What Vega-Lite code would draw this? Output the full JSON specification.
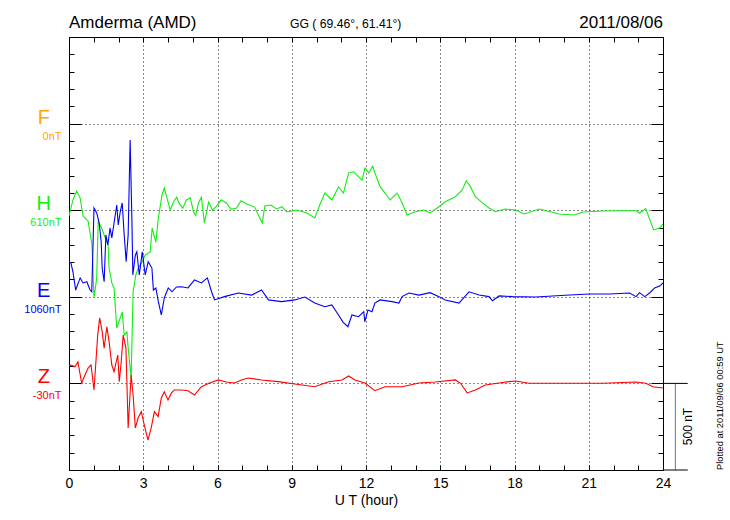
{
  "$schema": "https://vega.github.io/schema/vega-lite/v6.json",
  "width": 594,
  "height": 433,
  "autosize": {"type": "none"},
  "padding": {"left": 69, "top": 37, "right": 67, "bottom": 50},
  "background": "white",
  "config": {
    "font": "Liberation Sans",
    "view": {"stroke": "black", "strokeWidth": 1},
    "axis": {"labelFont": "Liberation Sans", "titleFont": "Liberation Sans"},
    "text": {"font": "Liberation Sans"}
  },
  "datasets": {
    "lines": [
      {"c":"H","t":0,"v":1467},{"c":"H","t":0.16,"v":1559},{"c":"H","t":0.31,"v":1611},{"c":"H","t":0.45,"v":1570},{"c":"H","t":0.57,"v":1467},{"c":"H","t":0.77,"v":1438},{"c":"H","t":0.93,"v":1299},{"c":"H","t":1.01,"v":993},{"c":"H","t":1.12,"v":1109},{"c":"H","t":1.18,"v":1432},{"c":"H","t":1.3,"v":1403},{"c":"H","t":1.42,"v":1357},{"c":"H","t":1.58,"v":1299},{"c":"H","t":1.62,"v":1166},{"c":"H","t":1.73,"v":1080},{"c":"H","t":1.82,"v":1051},{"c":"H","t":1.93,"v":820},{"c":"H","t":2.07,"v":878},{"c":"H","t":2.15,"v":912},{"c":"H","t":2.23,"v":779},{"c":"H","t":2.34,"v":797},{"c":"H","t":2.39,"v":704},{"c":"H","t":2.51,"v":531},{"c":"H","t":2.59,"v":1028},{"c":"H","t":2.7,"v":1126},{"c":"H","t":2.8,"v":1166},{"c":"H","t":2.95,"v":1201},{"c":"H","t":3.08,"v":1241},{"c":"H","t":3.28,"v":1259},{"c":"H","t":3.36,"v":1397},{"c":"H","t":3.51,"v":1316},{"c":"H","t":3.61,"v":1455},{"c":"H","t":3.76,"v":1588},{"c":"H","t":3.85,"v":1628},{"c":"H","t":3.96,"v":1570},{"c":"H","t":4.09,"v":1501},{"c":"H","t":4.22,"v":1547},{"c":"H","t":4.35,"v":1575},{"c":"H","t":4.46,"v":1536},{"c":"H","t":4.6,"v":1512},{"c":"H","t":4.74,"v":1559},{"c":"H","t":4.9,"v":1572},{"c":"H","t":5.03,"v":1490},{"c":"H","t":5.12,"v":1470},{"c":"H","t":5.23,"v":1542},{"c":"H","t":5.35,"v":1575},{"c":"H","t":5.47,"v":1426},{"c":"H","t":5.64,"v":1547},{"c":"H","t":5.8,"v":1500},{"c":"H","t":5.96,"v":1524},{"c":"H","t":6.15,"v":1560},{"c":"H","t":6.36,"v":1542},{"c":"H","t":6.55,"v":1505},{"c":"H","t":6.77,"v":1513},{"c":"H","t":6.95,"v":1555},{"c":"H","t":7.18,"v":1536},{"c":"H","t":7.5,"v":1518},{"c":"H","t":7.81,"v":1426},{"c":"H","t":7.91,"v":1524},{"c":"H","t":8.15,"v":1530},{"c":"H","t":8.39,"v":1507},{"c":"H","t":8.6,"v":1520},{"c":"H","t":8.8,"v":1490},{"c":"H","t":9.2,"v":1501},{"c":"H","t":9.61,"v":1484},{"c":"H","t":9.93,"v":1455},{"c":"H","t":10.13,"v":1530},{"c":"H","t":10.34,"v":1599},{"c":"H","t":10.62,"v":1559},{"c":"H","t":10.89,"v":1634},{"c":"H","t":11.09,"v":1599},{"c":"H","t":11.3,"v":1715},{"c":"H","t":11.5,"v":1722},{"c":"H","t":11.68,"v":1697},{"c":"H","t":11.84,"v":1674},{"c":"H","t":11.96,"v":1744},{"c":"H","t":12.11,"v":1715},{"c":"H","t":12.27,"v":1755},{"c":"H","t":12.36,"v":1715},{"c":"H","t":12.57,"v":1636},{"c":"H","t":12.77,"v":1599},{"c":"H","t":12.97,"v":1559},{"c":"H","t":13.26,"v":1599},{"c":"H","t":13.46,"v":1542},{"c":"H","t":13.66,"v":1472},{"c":"H","t":13.99,"v":1491},{"c":"H","t":14.34,"v":1501},{"c":"H","t":14.59,"v":1484},{"c":"H","t":14.95,"v":1520},{"c":"H","t":15.2,"v":1549},{"c":"H","t":15.61,"v":1578},{"c":"H","t":15.89,"v":1617},{"c":"H","t":16.05,"v":1670},{"c":"H","t":16.22,"v":1636},{"c":"H","t":16.42,"v":1578},{"c":"H","t":16.7,"v":1542},{"c":"H","t":16.97,"v":1513},{"c":"H","t":17.23,"v":1491},{"c":"H","t":17.63,"v":1507},{"c":"H","t":18.04,"v":1501},{"c":"H","t":18.39,"v":1478},{"c":"H","t":19.0,"v":1507},{"c":"H","t":19.81,"v":1478},{"c":"H","t":20.42,"v":1472},{"c":"H","t":20.76,"v":1490},{"c":"H","t":21.57,"v":1495},{"c":"H","t":22.24,"v":1497},{"c":"H","t":22.91,"v":1497},{"c":"H","t":23.06,"v":1484},{"c":"H","t":23.3,"v":1509},{"c":"H","t":23.62,"v":1386},{"c":"H","t":23.87,"v":1397},{"c":"H","t":24,"v":1420},
      {"c":"E","t":0,"v":1201},{"c":"E","t":0.08,"v":1195},{"c":"E","t":0.16,"v":1143},{"c":"E","t":0.27,"v":1039},{"c":"E","t":0.45,"v":1109},{"c":"E","t":0.57,"v":1080},{"c":"E","t":0.72,"v":1087},{"c":"E","t":0.85,"v":1039},{"c":"E","t":0.92,"v":1029},{"c":"E","t":1.01,"v":1513},{"c":"E","t":1.12,"v":1484},{"c":"E","t":1.22,"v":1426},{"c":"E","t":1.3,"v":1318},{"c":"E","t":1.34,"v":1166},{"c":"E","t":1.42,"v":1087},{"c":"E","t":1.49,"v":1357},{"c":"E","t":1.57,"v":1299},{"c":"E","t":1.66,"v":1397},{"c":"E","t":1.73,"v":1340},{"c":"E","t":1.82,"v":1426},{"c":"E","t":1.93,"v":1530},{"c":"E","t":1.99,"v":1415},{"c":"E","t":2.07,"v":1491},{"c":"E","t":2.15,"v":1542},{"c":"E","t":2.23,"v":1357},{"c":"E","t":2.31,"v":1203},{"c":"E","t":2.39,"v":1357},{"c":"E","t":2.47,"v":1905},{"c":"E","t":2.54,"v":1455},{"c":"E","t":2.58,"v":1126},{"c":"E","t":2.68,"v":1241},{"c":"E","t":2.74,"v":1260},{"c":"E","t":2.84,"v":1126},{"c":"E","t":2.96,"v":1260},{"c":"E","t":3.08,"v":1126},{"c":"E","t":3.2,"v":1203},{"c":"E","t":3.35,"v":1166},{"c":"E","t":3.41,"v":1039},{"c":"E","t":3.51,"v":1051},{"c":"E","t":3.61,"v":972},{"c":"E","t":3.73,"v":895},{"c":"E","t":3.85,"v":993},{"c":"E","t":4.01,"v":1051},{"c":"E","t":4.16,"v":1029},{"c":"E","t":4.34,"v":1057},{"c":"E","t":4.54,"v":1058},{"c":"E","t":4.81,"v":1051},{"c":"E","t":5.07,"v":1097},{"c":"E","t":5.35,"v":1080},{"c":"E","t":5.59,"v":1109},{"c":"E","t":5.76,"v":1029},{"c":"E","t":5.88,"v":982},{"c":"E","t":6.28,"v":1001},{"c":"E","t":6.84,"v":1022},{"c":"E","t":7.38,"v":1010},{"c":"E","t":7.78,"v":1039},{"c":"E","t":8.06,"v":982},{"c":"E","t":8.59,"v":972},{"c":"E","t":9.12,"v":982},{"c":"E","t":9.53,"v":999},{"c":"E","t":9.93,"v":964},{"c":"E","t":10.34,"v":943},{"c":"E","t":10.62,"v":953},{"c":"E","t":10.89,"v":895},{"c":"E","t":11.07,"v":854},{"c":"E","t":11.27,"v":827},{"c":"E","t":11.43,"v":895},{"c":"E","t":11.7,"v":885},{"c":"E","t":11.91,"v":914},{"c":"E","t":11.95,"v":856},{"c":"E","t":12.08,"v":924},{"c":"E","t":12.24,"v":914},{"c":"E","t":12.36,"v":964},{"c":"E","t":12.57,"v":982},{"c":"E","t":13.05,"v":972},{"c":"E","t":13.33,"v":964},{"c":"E","t":13.46,"v":1001},{"c":"E","t":13.73,"v":1022},{"c":"E","t":14.14,"v":1010},{"c":"E","t":14.59,"v":1024},{"c":"E","t":14.95,"v":1001},{"c":"E","t":15.2,"v":982},{"c":"E","t":15.76,"v":964},{"c":"E","t":16.16,"v":1029},{"c":"E","t":16.57,"v":1010},{"c":"E","t":16.97,"v":1001},{"c":"E","t":17.11,"v":977},{"c":"E","t":17.38,"v":1005},{"c":"E","t":17.92,"v":1001},{"c":"E","t":18.85,"v":999},{"c":"E","t":19.54,"v":1005},{"c":"E","t":20.22,"v":1010},{"c":"E","t":21.03,"v":1016},{"c":"E","t":21.84,"v":1016},{"c":"E","t":22.65,"v":1022},{"c":"E","t":22.91,"v":1001},{"c":"E","t":23.05,"v":1024},{"c":"E","t":23.26,"v":1001},{"c":"E","t":23.46,"v":1022},{"c":"E","t":23.66,"v":1051},{"c":"E","t":23.87,"v":1062},{"c":"E","t":24,"v":1080},
      {"c":"Z","t":0,"v":600},{"c":"Z","t":0.08,"v":606},{"c":"Z","t":0.24,"v":596},{"c":"Z","t":0.36,"v":625},{"c":"Z","t":0.51,"v":502},{"c":"Z","t":0.68,"v":560},{"c":"Z","t":0.77,"v":589},{"c":"Z","t":0.89,"v":606},{"c":"Z","t":1.01,"v":462},{"c":"Z","t":1.16,"v":779},{"c":"Z","t":1.24,"v":878},{"c":"Z","t":1.34,"v":799},{"c":"Z","t":1.42,"v":704},{"c":"Z","t":1.53,"v":827},{"c":"Z","t":1.62,"v":741},{"c":"Z","t":1.73,"v":606},{"c":"Z","t":1.82,"v":568},{"c":"Z","t":1.97,"v":664},{"c":"Z","t":2.03,"v":510},{"c":"Z","t":2.11,"v":625},{"c":"Z","t":2.19,"v":779},{"c":"Z","t":2.3,"v":704},{"c":"Z","t":2.39,"v":242},{"c":"Z","t":2.51,"v":549},{"c":"Z","t":2.59,"v":433},{"c":"Z","t":2.68,"v":242},{"c":"Z","t":2.79,"v":300},{"c":"Z","t":2.92,"v":337},{"c":"Z","t":3.04,"v":260},{"c":"Z","t":3.19,"v":173},{"c":"Z","t":3.32,"v":242},{"c":"Z","t":3.45,"v":337},{"c":"Z","t":3.6,"v":308},{"c":"Z","t":3.73,"v":416},{"c":"Z","t":3.85,"v":452},{"c":"Z","t":4.0,"v":404},{"c":"Z","t":4.14,"v":445},{"c":"Z","t":4.26,"v":462},{"c":"Z","t":4.54,"v":462},{"c":"Z","t":4.81,"v":458},{"c":"Z","t":5.07,"v":433},{"c":"Z","t":5.35,"v":481},{"c":"Z","t":5.68,"v":502},{"c":"Z","t":6.03,"v":520},{"c":"Z","t":6.36,"v":508},{"c":"Z","t":6.69,"v":502},{"c":"Z","t":6.97,"v":520},{"c":"Z","t":7.24,"v":531},{"c":"Z","t":7.78,"v":520},{"c":"Z","t":8.46,"v":510},{"c":"Z","t":9.12,"v":497},{"c":"Z","t":9.93,"v":481},{"c":"Z","t":10.49,"v":510},{"c":"Z","t":11.03,"v":520},{"c":"Z","t":11.3,"v":543},{"c":"Z","t":11.55,"v":520},{"c":"Z","t":11.96,"v":502},{"c":"Z","t":12.36,"v":458},{"c":"Z","t":12.77,"v":481},{"c":"Z","t":13.46,"v":481},{"c":"Z","t":14.14,"v":502},{"c":"Z","t":14.8,"v":508},{"c":"Z","t":15.61,"v":520},{"c":"Z","t":15.81,"v":502},{"c":"Z","t":16.09,"v":445},{"c":"Z","t":16.42,"v":462},{"c":"Z","t":16.82,"v":491},{"c":"Z","t":17.38,"v":502},{"c":"Z","t":17.78,"v":510},{"c":"Z","t":18.04,"v":514},{"c":"Z","t":18.59,"v":501},{"c":"Z","t":20.22,"v":501},{"c":"Z","t":21.57,"v":501},{"c":"Z","t":22.91,"v":508},{"c":"Z","t":23.31,"v":501},{"c":"Z","t":23.59,"v":481},{"c":"Z","t":24,"v":473}
    ],
    "comps": [
      {"c":"F","base":2000,"lab":"0nT"},
      {"c":"H","base":1500,"lab":"610nT"},
      {"c":"E","base":1000,"lab":"1060nT"},
      {"c":"Z","base":500,"lab":"-30nT"}
    ],
    "one": [{}]
  },
  "resolve": {"axis": {"x": "independent", "y": "independent"}},
  "layer": [
    {
      "data": {"name": "lines"},
      "mark": {"type": "line", "strokeWidth": 1.1, "clip": true},
      "encoding": {
        "x": {
          "field": "t", "type": "quantitative",
          "scale": {"domain": [0, 24], "nice": false, "zero": false},
          "axis": {
            "orient": "bottom",
            "values": [0,1,2,3,4,5,6,7,8,9,10,11,12,13,14,15,16,17,18,19,20,21,22,23,24],
            "format": "d",
            "title": "U T (hour)",
            "titleFontSize": 14, "titleFontWeight": "normal", "titleColor": "black", "titlePadding": 3,
            "labelExpr": "datum.value % 3 === 0 ? datum.label : ''",
            "labelFontSize": 14, "labelColor": "black", "labelFlush": false, "labelOverlap": false, "labelBound": false,
            "labelPadding": 11,
            "tickSize": -5, "tickColor": "black",
            "domain": false,
            "grid": true, "gridColor": "#111111", "gridDash": [1, 3],
            "gridOpacity": {"condition": {"test": "datum.value % 3 === 0 && datum.value > 0 && datum.value < 24", "value": 1}, "value": 0}
          }
        },
        "y": {
          "field": "v", "type": "quantitative",
          "scale": {"domain": [0, 2500], "nice": false, "zero": false},
          "axis": {
            "orient": "left",
            "values": [0,100,200,300,400,500,600,700,800,900,1000,1100,1200,1300,1400,1500,1600,1700,1800,1900,2000,2100,2200,2300,2400,2500],
            "labels": false, "title": null,
            "tickSize": {"condition": {"test": "datum.value % 500 === 0", "value": -12}, "value": -5},
            "tickColor": "black",
            "domain": false,
            "grid": true, "gridColor": "#111111", "gridDash": [1, 3],
            "gridOpacity": {"condition": {"test": "datum.value % 500 === 0 && datum.value > 0 && datum.value < 2500", "value": 1}, "value": 0}
          }
        },
        "color": {
          "field": "c", "type": "nominal",
          "scale": {"domain": ["F","H","E","Z"], "range": ["#FFA500","#11EE11","#0000F5","#FF0000"]},
          "legend": null
        }
      }
    },
    {
      "data": {"name": "one"},
      "mark": {"type": "rule", "color": "#777777", "strokeWidth": 1},
      "encoding": {
        "x": {
          "datum": 24.5, "type": "quantitative",
          "axis": {
            "orient": "top",
            "values": [0,1,2,3,4,5,6,7,8,9,10,11,12,13,14,15,16,17,18,19,20,21,22,23,24],
            "labels": false, "title": null, "tickSize": -5, "tickColor": "black", "domain": false, "grid": false
          }
        },
        "y": {
          "datum": 0, "type": "quantitative",
          "axis": {
            "orient": "right",
            "values": [0,100,200,300,400,500,600,700,800,900,1000,1100,1200,1300,1400,1500,1600,1700,1800,1900,2000,2100,2200,2300,2400,2500],
            "labels": false, "title": null,
            "tickSize": {"condition": {"test": "datum.value % 500 === 0", "value": -12}, "value": -5},
            "tickColor": "black", "domain": false, "grid": false
          }
        },
        "y2": {"datum": 500}
      }
    },
    {
      "data": {"name": "one"},
      "mark": {"type": "rule", "color": "black", "strokeWidth": 1},
      "encoding": {
        "x": {"datum": 24, "type": "quantitative", "axis": null},
        "x2": {"datum": 25},
        "y": {"datum": 500, "type": "quantitative", "axis": null}
      }
    },
    {
      "data": {"name": "one"},
      "mark": {"type": "rule", "color": "black", "strokeWidth": 1},
      "encoding": {
        "x": {"datum": 24, "type": "quantitative", "axis": null},
        "x2": {"datum": 25},
        "y": {"datum": 0, "type": "quantitative", "axis": null}
      }
    },
    {
      "data": {"name": "one"},
      "mark": {"type": "text", "angle": 270, "fontSize": 12, "color": "black", "align": "center", "baseline": "middle"},
      "encoding": {
        "x": {"datum": 25.02, "type": "quantitative", "axis": null},
        "y": {"datum": 251, "type": "quantitative", "axis": null},
        "text": {"value": "500 nT"}
      }
    },
    {
      "data": {"name": "one"},
      "mark": {"type": "text", "angle": 270, "fontSize": 9.3, "color": "black", "align": "left", "baseline": "middle"},
      "encoding": {
        "x": {"datum": 26.32, "type": "quantitative", "axis": null},
        "y": {"datum": 0, "type": "quantitative", "axis": null},
        "text": {"value": "Plotted at 2011/09/06 00:59 UT"}
      }
    },
    {
      "data": {"name": "one"},
      "mark": {"type": "text", "fontSize": 17, "color": "black", "align": "left", "baseline": "alphabetic"},
      "encoding": {
        "x": {"datum": 0, "type": "quantitative", "axis": null},
        "y": {"datum": 2552, "type": "quantitative", "axis": null},
        "text": {"value": "Amderma (AMD)"}
      }
    },
    {
      "data": {"name": "one"},
      "mark": {"type": "text", "fontSize": 12.2, "color": "black", "align": "left", "baseline": "alphabetic"},
      "encoding": {
        "x": {"datum": 8.93, "type": "quantitative", "axis": null},
        "y": {"datum": 2552, "type": "quantitative", "axis": null},
        "text": {"value": "GG ( 69.46°,  61.41°)"}
      }
    },
    {
      "data": {"name": "one"},
      "mark": {"type": "text", "fontSize": 17, "color": "black", "align": "right", "baseline": "alphabetic"},
      "encoding": {
        "x": {"datum": 24, "type": "quantitative", "axis": null},
        "y": {"datum": 2552, "type": "quantitative", "axis": null},
        "text": {"value": "2011/08/06"}
      }
    },
    {
      "data": {"name": "comps"},
      "mark": {"type": "text", "fontSize": 20, "align": "center", "baseline": "middle", "dy": -6},
      "encoding": {
        "x": {"datum": -1.02, "type": "quantitative", "axis": null},
        "y": {"field": "base", "type": "quantitative", "axis": null},
        "text": {"field": "c"},
        "color": {"field": "c", "type": "nominal", "legend": null}
      }
    },
    {
      "data": {"name": "comps"},
      "mark": {"type": "text", "fontSize": 11, "align": "right", "baseline": "middle", "dy": 13},
      "encoding": {
        "x": {"datum": -0.3, "type": "quantitative", "axis": null},
        "y": {"field": "base", "type": "quantitative", "axis": null},
        "text": {"field": "lab"},
        "color": {"field": "c", "type": "nominal", "legend": null}
      }
    }
  ]
}
